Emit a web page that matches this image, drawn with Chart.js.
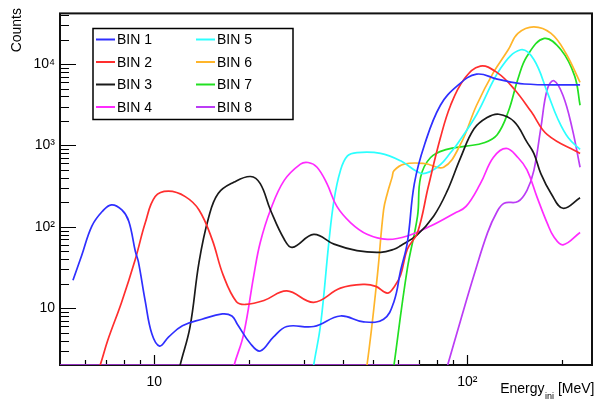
<!DOCTYPE html>
<html><head><meta charset="utf-8">
<script src="https://cdn.jsdelivr.net/npm/chart.js@4/dist/chart.umd.min.js"></script>
<style>html,body{margin:0;padding:0;background:#fff}#wrap{width:600px;height:400px;position:relative}</style>
</head><body><div id="wrap"><canvas id="c" width="600" height="400"></canvas></div>
<script>
// ---- data ----
const seriesNames = ['BIN 1','BIN 2','BIN 3','BIN 4','BIN 5','BIN 6','BIN 7','BIN 8'];
const seriesColors = ['#2f2fff','#ff2e2e','#1a1a1a','#ff2bff','#2cffff','#ffb52a','#22e022','#bb3cf5'];

const bin1X = [5.5,5.86,6.32,6.82,7.3,7.88,8.29,8.7,8.9,9.36,9.83,10.4,11.1,12.3,14.2,16.5,17.7,18.4,20.3,21.8,24,26.5,32.3,39.3,46.6,54,58.3,61.2,64.3,67.7,73,82,93,107,124.5,152,229];
const bin1Y = [22,44,102,154,186,161,117,50,37,12.1,4.8,3.42,4.4,6.07,7.3,8.5,8.0,6.4,3.65,2.97,4.4,5.95,5.95,8.0,6.78,7.3,12.1,29,64,339,1028,3120,5430,7520,6550,5690,5560];

const bin2X = [6.4,6.72,7.1,7.88,8.7,9.36,10.07,11.1,12.56,13.9,15.3,16.6,18.3,19.6,22.4,26.5,32.3,39.3,46.6,51,55.5,58.5,61.2,64.3,69.3,75,82,88.4,97.7,110,124.5,141,160,180,229];
const bin2Y = [1.2,2,4.0,12.1,40,112,235,274,235,161,70,25.5,12,11.1,12.4,16.3,11.8,17.6,19.6,18.5,15.3,18.5,25.5,53,85,310,1240,3120,6550,9460,7850,4950,2590,1357,795];

const bin3X = [11.8,12.1,13.0,13.9,14.9,16.0,18.0,20.3,21.8,23.5,26.0,27.6,32.3,37.5,44.4,52.8,58.3,61.2,69,78,86,95,105,115.6,126,141,155,163,171.6,185,202,229];
const bin3Y = [1.2,2,5.8,36.8,128,257,355,415,339,161,70.3,55.8,80.8,61.2,51,48.6,53,58.5,79,135,270,700,1600,2200,2420,1965,1100,800,450,257,169,228];

const bin4X = [17.5,18.0,19.3,20.8,21.8,23.5,26,29.3,31,33.1,35.6,38.3,42.4,47.8,55.5,64.3,76.3,91,99,110,121,133,145,155,167,180,189,202,229];
const bin4Y = [1.2,2,4.8,25.5,64,161,372,590,617,540,339,178,112,81,70,77,102,147,178,339,711,920,711,500,230,110,75,60,85];

const bin5X = [31.5,32.3,34,36.1,37.5,39.3,41.4,44.4,52.8,61.2,70.9,76.3,82,88,93,107,128,148,163,180,194,210,229];
const bin5Y = [1,2,6.4,64,213,490,743,817,800,647,456,480,580,800,1050,2400,9000,15000,11400,4500,2160,1240,895];

const bin6X = [46,47.8,51.6,54,55.5,57.5,58.3,62.8,73,84,95,107,121,135,145,163,185,206,229];
const bin6Y = [1,2,25.5,161,257,408,490,590,600,540,1028,3120,7850,15000,23800,28700,23800,13700,5960];

const bin7X = [57,58.3,64.3,69.3,70.9,76.3,86,99,113,124.5,135,145,155,176,199,220,229];
const bin7Y = [1,2,30.6,135,408,711,895,980,1077,1357,2590,6550,12500,20700,15000,7170,3120];

const bin8X = [5,70.5,78,86.5,95,105,116,124,131,145,155,163,171.6,180,189,202,216,229];
const bin8Y = [2,2,null,2,6.97,25.5,84.7,150,195,204,281,490,1634,4950,6240,4110,1634,540];

const xTickValues = [5,6,7,8,9,10,20,30,40,50,60,70,80,90,100,200];
const xTickLabels = {10:'10', 100:'10\u00B2'};
const yTickValues = [2,3,4,5,6,7,8,9,10,20,30,40,50,60,70,80,90,100,200,300,400,500,600,700,800,900,1000,2000,3000,4000,5000,6000,7000,8000,9000,10000,20000,30000,40000];
const yTickLabels = {10:'10', 100:'10\u00B2', 1000:'10\u00B3', 10000:'10\u2074'};
const xTitleMain = 'Energy', xTitleSub = 'ini', xTitleUnit = ' [MeV]';
const yTitle = 'Counts';

// ---- chart ----
const FONT = "'Liberation Sans', Arial, Helvetica, sans-serif";
const allX = [bin1X,bin2X,bin3X,bin4X,bin5X,bin6X,bin7X,bin8X];
const allY = [bin1Y,bin2Y,bin3Y,bin4Y,bin5Y,bin6Y,bin7Y,bin8Y];
const datasets = seriesNames.map((name,i)=>({
  label: name,
  data: allX[i].map((x,j)=>({x:x, y:allY[i][j]})),
  borderColor: seriesColors[i],
  backgroundColor: seriesColors[i],
  borderWidth: 1.7,
  pointRadius: 0,
  fill: false,
  tension: 0.4,
  spanGaps: false
}));

const isDecade = v => Math.abs(Math.log10(v) - Math.round(Math.log10(v))) < 1e-9;

const framePlugin = {
  id: 'frame',
  beforeDatasetsDraw(chart){
    const ctx = chart.ctx, a = chart.chartArea;
    const xs = chart.scales.x, ys = chart.scales.y;
    ctx.save();
    ctx.strokeStyle = '#000';
    ctx.lineWidth = 1.2;
    ctx.beginPath();
    yTickValues.forEach(v=>{
      const py = Math.round(ys.getPixelForValue(v)) + 0.5;
      if (py < a.top || py > a.bottom) return;
      const len = isDecade(v) ? 16 : 9;
      ctx.moveTo(a.left, py); ctx.lineTo(a.left + len, py);
    });
    xTickValues.forEach(v=>{
      const px = Math.round(xs.getPixelForValue(v)) + 0.5;
      if (px < a.left + 1 || px > a.right) return;
      const len = isDecade(v) ? 10 : 5;
      ctx.moveTo(px, a.bottom); ctx.lineTo(px, a.bottom - len);
    });
    ctx.stroke();
    ctx.lineWidth = 2;
    ctx.strokeStyle = '#111';
    ctx.strokeRect(a.left, a.top, a.right - a.left, a.bottom - a.top);
    ctx.restore();
  },
  afterDraw(chart){
    const ctx = chart.ctx;
    ctx.save();
    ctx.fillStyle = '#000';
    ctx.font = '14px ' + FONT;
    ctx.translate(21, 8);
    ctx.rotate(-Math.PI/2);
    ctx.textAlign = 'right';
    ctx.textBaseline = 'alphabetic';
    ctx.fillText(yTitle, 0, 0);
    ctx.restore();
    ctx.save();
    ctx.fillStyle = '#000';
    ctx.textBaseline = 'alphabetic';
    ctx.textAlign = 'left';
    ctx.font = '14px ' + FONT;
    const wMain = ctx.measureText(xTitleMain).width;
    const wUnit = ctx.measureText(xTitleUnit).width;
    ctx.font = '9px ' + FONT;
    const wSub = ctx.measureText(xTitleSub).width;
    let x0 = 594 - wMain - wSub - wUnit;
    ctx.font = '14px ' + FONT;
    ctx.fillText(xTitleMain, x0, 393);
    ctx.font = '9px ' + FONT;
    ctx.fillText(xTitleSub, x0 + wMain + 0.5, 399);
    ctx.font = '14px ' + FONT;
    ctx.fillText(xTitleUnit, x0 + wMain + wSub + 0.5, 393);
    const bx = 93, by = 28.5, bw = 200, bh = 91;
    ctx.fillStyle = '#fff';
    ctx.fillRect(bx, by, bw, bh);
    ctx.strokeStyle = '#000';
    ctx.lineWidth = 1.5;
    ctx.strokeRect(bx, by, bw, bh);
    const rows = [39.5, 62, 84.5, 107];
    const cols = [96, 196];
    ctx.font = '14px ' + FONT;
    ctx.textBaseline = 'middle';
    seriesNames.forEach((n,i)=>{
      const c = Math.floor(i/4), r = i % 4;
      const lx = cols[c], ly = rows[r];
      ctx.strokeStyle = seriesColors[i];
      ctx.lineWidth = 2;
      ctx.beginPath(); ctx.moveTo(lx, ly); ctx.lineTo(lx + 19, ly); ctx.stroke();
      ctx.fillStyle = '#000';
      ctx.fillText(n, lx + 21, ly + 1);
    });
    ctx.restore();
  }
};

new Chart(document.getElementById('c'), {
  type: 'line',
  data: { datasets },
  options: {
    responsive: false,
    animation: false,
    events: [],
    layout: { padding: { left: 0, right: 8, top: 6, bottom: 0 } },
    plugins: { legend: { display: false }, tooltip: { enabled: false } },
    scales: {
      x: {
        type: 'logarithmic', min: 5, max: 250,
        afterBuildTicks: s => { s.ticks = xTickValues.map(v=>({value:v})); },
        afterFit: s => { s.height = 35; },
        grid: { display: false, drawTicks: false },
        border: { display: false },
        ticks: { autoSkip: false, maxRotation: 0, padding: 9, color: '#000',
          font: { size: 14, family: FONT },
          callback: v => xTickLabels[v] || '' }
      },
      y: {
        type: 'logarithmic', min: 2, max: 42000,
        afterBuildTicks: s => { s.ticks = yTickValues.map(v=>({value:v})); },
        afterFit: s => { s.width = 60; },
        grid: { display: false, drawTicks: false },
        border: { display: false },
        ticks: { autoSkip: false, padding: 5, color: '#000',
          font: { size: 14, family: FONT },
          callback: v => yTickLabels[v] || '' }
      }
    }
  },
  plugins: [framePlugin]
});
</script>
</body></html>
